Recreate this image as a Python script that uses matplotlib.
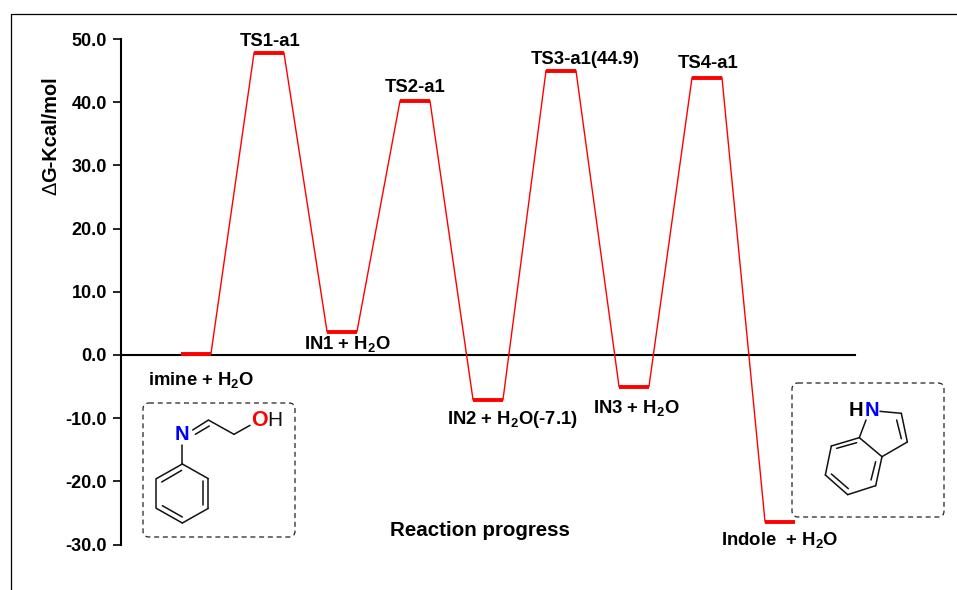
import matplotlib
matplotlib.use('Agg')
import matplotlib.pyplot as plt
from matplotlib.patches import FancyBboxPatch

plt.rcParams['font.family'] = ['Liberation Sans', 'DejaVu Sans']
plt.rcParams['mathtext.default'] = 'regular'

# Data
steps = list(range(9))
energies = [0.2, 47.8, 3.7, 40.2, -7.1, 45.0, -5.0, 43.9, -26.4]
y_ticks = [-30, -20, -10, 0, 10, 20, 30, 40, 50]
half_width = 0.205

W, H = 957, 590
fig = plt.figure(figsize=(W / 100, H / 100), dpi=100)

# Main axes, placed so the spine and tick positions line up
left, right, top, bottom = 121, 855, 39, 544.5
ax = fig.add_axes([left / W, 1 - bottom / H, (right - left) / W, (bottom - top) / H])
ax.set_xlim((left - 196) / 73, (right - 196) / 73)
ax.set_ylim(-30, 50)
ax.patch.set_alpha(0)

ax.spines['top'].set_visible(False)
ax.spines['right'].set_visible(False)
ax.spines['bottom'].set_position(('data', 0))
ax.spines['left'].set_linewidth(1.5)
ax.spines['bottom'].set_linewidth(1.5)
ax.set_xticks([])
ax.set_yticks(y_ticks)
ax.set_yticklabels([f'{t:.1f}' for t in y_ticks], fontsize=13, fontweight='bold')
ax.tick_params(axis='y', length=6, width=1.2, pad=4)

# Energy levels and connecting lines
for i in steps:
    ax.plot([i - half_width, i + half_width], [energies[i]] * 2, color='#ff0000',
            lw=2.8, solid_capstyle='butt', zorder=4)
    if i < steps[-1]:
        ax.plot([i + half_width, i + 1 - half_width], [energies[i], energies[i + 1]],
                color='#ff0000', lw=1.0, zorder=3)

# Overlay in pixel coordinates for labels, frame and structures
ov = fig.add_axes([0, 0, 1, 1])
ov.set_xlim(0, W)
ov.set_ylim(H, 0)
ov.axis('off')
ov.patch.set_alpha(0)

# Outer frame
ov.plot([10.5, 10.5, W], [H, 14, 14], color='black', lw=0.9)

labels = [
    ('TS1-a1', 270, 42),
    ('TS2-a1', 415, 87.5),
    ('TS3-a1(44.9)', 585, 59.5),
    ('TS4-a1', 708, 63.5),
    ('IN1 + H$_2$O', 347, 344.5),
    ('imine + H$_2$O', 201, 379.5),
    ('IN2 + H$_2$O(-7.1)', 512, 419.5),
    ('IN3 + H$_2$O', 636, 408.5),
    ('Indole  + H$_2$O', 780, 539.5),
]
for text, x, y in labels:
    ov.text(x, y, text, ha='center', va='center', fontsize=13.3, fontweight='bold')

ov.text(480, 530, 'Reaction progress', ha='center', va='center', fontsize=14.8, fontweight='bold')
# the delta is regular weight in the reference, the rest bold
ov.text(51, 182, 'G-Kcal/mol', rotation=90, ha='center', va='bottom', fontsize=14.4, fontweight='bold')
ov.text(51, 195, '\u0394', rotation=90, ha='center', va='bottom', fontsize=14.4)


def dashed_box(x0, y0, x1, y1):
    ov.add_patch(FancyBboxPatch((x0 + 5, y0 + 5), x1 - x0 - 10, y1 - y0 - 10,
                                boxstyle='round,pad=5,rounding_size=6', fill=False,
                                ec='#222222', lw=0.9, ls=(0, (4, 3))))


def draw_bonds(bonds, ox, oy):
    for x0, y0, x1, y1 in bonds:
        ov.plot([ox + x0 / 3, ox + x1 / 3], [oy + y0 / 3, oy + y1 / 3], color='#111111',
                lw=1.1, solid_capstyle='round')


# Imine structure
imine_bonds = [
    (547, 372, 625, 416), (625, 416, 625, 505), (625, 505, 547, 549),
    (547, 549, 469, 505), (469, 505, 469, 416), (469, 416, 547, 372),
    (485, 426, 545, 391), (609, 424, 609, 496), (487, 497, 547, 531),
    (547, 372, 547, 315), (578, 270, 624, 241), (586, 283, 628, 258),
    (625, 240, 702, 283), (702, 283, 750, 256),
]
dashed_box(143, 403, 295, 537)
draw_bonds(imine_bonds, 0, 340)
ov.text(182, 434.5, 'N', color='#0000ff', ha='center', va='center', fontsize=14.5, fontweight='bold')
ov.text(259, 420, 'O', color='#ff0000', ha='center', va='center', fontsize=15.5, fontweight='bold')
ov.text(275, 421, 'H', color='#111111', ha='center', va='center', fontsize=15)

# Indole structure
indole_bonds = [
    (540, 214, 604, 220), (604, 220, 622, 306), (590, 240, 604, 296),
    (622, 306, 546, 350), (546, 350, 478, 293), (478, 293, 498, 240),
    (478, 293, 394, 318), (470, 308, 410, 325), (394, 318, 376, 405),
    (376, 405, 443, 464), (394, 402, 445, 446), (443, 464, 527, 437),
    (527, 437, 546, 350), (513, 420, 527, 365),
]
dashed_box(792, 383, 944, 517)
draw_bonds(indole_bonds, 700, 340)
ov.text(856, 411, 'H', color='black', ha='center', va='center', fontsize=14.5, fontweight='bold')
ov.text(871.5, 411, 'N', color='#0000ff', ha='center', va='center', fontsize=14.5, fontweight='bold')

fig.savefig('out.png', dpi=100)
